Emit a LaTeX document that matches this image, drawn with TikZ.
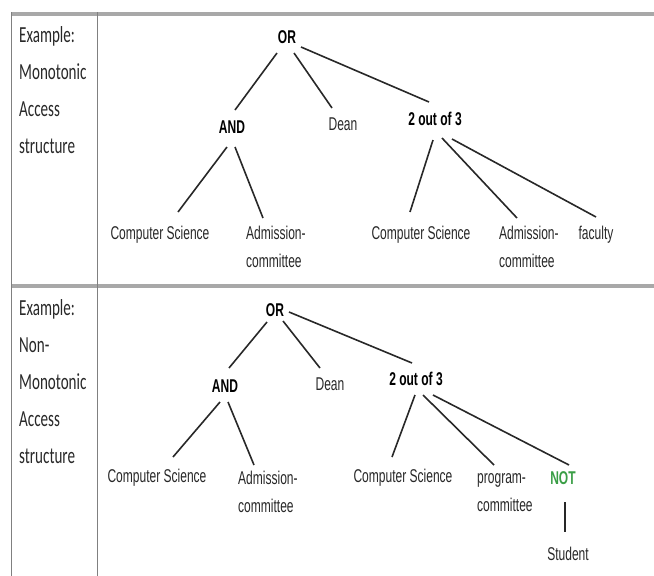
\documentclass[tikz,border=0pt]{standalone}
\usepackage{fontspec}
\usepackage{tikz}
\usetikzlibrary{calc}
\newfontfamily\cellfont[FakeStretch=0.655]{Carlito}
\newfontfamily\treefont[FakeStretch=0.65]{Liberation Sans}
\definecolor{ruleg}{RGB}{168,168,168}
\definecolor{inkg}{RGB}{40,40,40}
\definecolor{notg}{RGB}{58,158,70}
\newcommand{\cellsize}{\fontsize{23}{37}\selectfont}
\newcommand{\treesize}{\fontsize{18.5}{28}\selectfont}

\tikzset{
  cell/.style={font=\cellfont\cellsize, text=inkg, align=left, inner sep=0pt, anchor=north west},
  leaf/.style={font=\treefont\treesize, text=inkg, inner sep=0pt},
  twoline/.style={leaf, align=left, anchor=north west},
  gate/.style={font=\treefont\bfseries\treesize, text=black, inner sep=0pt},
  edge/.style={line width=1.6pt, draw=inkg},
  hrule/.style={line width=3.5pt, draw=ruleg},
  vrule/.style={line width=1pt, draw=gray}
}

\begin{document}
\begin{tikzpicture}[x=1pt, y=-1pt]
    \useasboundingbox (0,0) rectangle (654,576);
    % table
    \draw[hrule] (11.7,14) -- (654,14);
    \draw[hrule] (11.7,286) -- (654,286);
    \draw[vrule] (11.7,12) -- (11.7,576);
    \draw[vrule] (97,12) -- (97,576);

    \node[cell] (mono) at (19,26) {Example:\\Monotonic\\Access\\structure};
    \node[cell] (nonmono) at (19,299) {Example:\\Non-\\Monotonic\\Access\\structure};

    % monotonic tree
    \node[gate] (or) at (287,37) {OR};
    \node[gate] (and) at (232,127) {AND};
    \node[leaf] (dean) at (343,124) {Dean};
    \node[gate] (two) at (435,119) {2 out of 3};
    \node[leaf] (cs) at (160,235) {Computer Science};
    \node[twoline] (adm) at (246,226) {Admission-\\committee};
    \node[leaf] (csb) at (421,235) {Computer Science};
    \node[twoline] (admb) at (499,226) {Admission-\\committee};
    \node[leaf] (fac) at (596,235) {faculty};

    \draw[edge] ($(or)+(-10,16)$) -- ($(and)+(3,-17)$);
    \draw[edge] ($(or)+(7,16)$) -- ($(dean)+(-11,-16)$);
    \draw[edge] ($(or)+(14,10)$) -- ($(two)+(-6,-17)$);
    \draw[edge] ($(and)+(-5,20)$) -- ($(cs)+(18,-23)$);
    \draw[edge] ($(and)+(3,20)$) -- ($(adm.north west)+(17,-8)$);
    \draw[edge] ($(two)+(-2,21)$) -- ($(csb)+(-11,-23)$);
    \draw[edge] ($(two)+(7,19)$) -- ($(admb.north west)+(18,-8)$);
    \draw[edge] ($(two)+(17,20)$) -- ($(fac)+(0,-18)$);

    % non-monotonic tree
    \node[gate] (orn) at (275,310) {OR};
    \node[gate] (andn) at (225,386) {AND};
    \node[leaf] (deann) at (330,384) {Dean};
    \node[gate] (twon) at (416,379) {2 out of 3};
    \node[leaf] (csn) at (157,478) {Computer Science};
    \node[twoline] (admn) at (238,471) {Admission-\\committee};
    \node[leaf] (csnb) at (403,478) {Computer Science};
    \node[twoline] (prog) at (477,473) {program-\\committee};
    \node[gate, text=notg] (not) at (563,478) {NOT};
    \node[leaf] (stud) at (568,554) {Student};

    \draw[edge] ($(orn)+(-8,12)$) -- ($(andn)+(4,-18)$);
    \draw[edge] ($(orn)+(8,11)$) -- ($(deann)+(-10,-16)$);
    \draw[edge] ($(orn)+(14,2)$) -- ($(twon)+(-4,-16)$);
    \draw[edge] ($(andn)+(-5,16)$) -- ($(csn)+(16,-21)$);
    \draw[edge] ($(andn)+(3,16)$) -- ($(admn.north west)+(16,-6)$);
    \draw[edge] ($(twon)+(-1,16)$) -- ($(csnb)+(-11,-21)$);
    \draw[edge] ($(twon)+(7,16)$) -- ($(prog.north west)+(17,-8)$);
    \draw[edge] ($(twon)+(17,16)$) -- ($(not)+(6,-13)$);
    \draw[edge] ($(not)+(2,24)$) -- ($(stud)+(-3,-22)$);
\end{tikzpicture}
\end{document}
